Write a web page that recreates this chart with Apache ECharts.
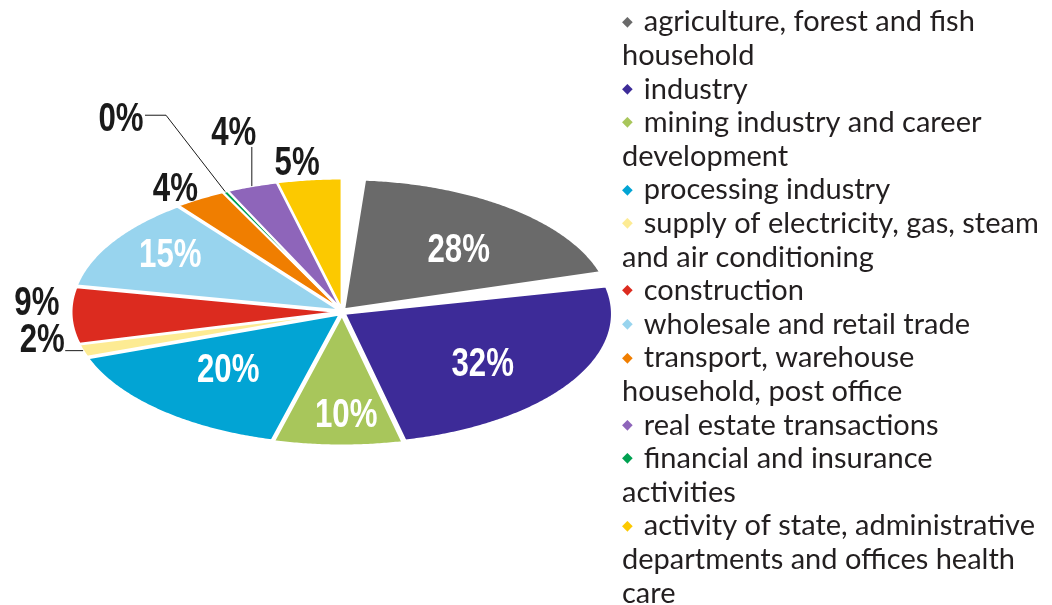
<!DOCTYPE html>
<html>
<head>
<meta charset="utf-8">
<script src="https://cdn.jsdelivr.net/npm/echarts@6/dist/echarts.min.js"></script>
<style>
html, body { margin: 0; padding: 0; background: #fff; }
#app { width: 1052px; height: 605px; }
</style>
</head>
<body>
<div id="app"></div>
<script>
// slices, clockwise from 12 o'clock
var categories = [
    'agriculture, forest and fish household',
    'industry',
    'mining industry and career development',
    'processing industry',
    'supply of electricity, gas, steam and air conditioning',
    'construction',
    'wholesale and retail trade',
    'transport, warehouse household, post office',
    'financial and insurance activities',
    'real estate transactions',
    'activity of state, administrative departments and offices health care'
];
var shares = [28, 32, 10, 20, 2, 9, 15, 4, 0.4, 4, 5];
// legend order and line breaks as printed
var legendOrder = [0, 1, 2, 3, 4, 5, 6, 7, 9, 8, 10];
var legendText = [
    'agriculture, forest and fish\nhousehold',
    'industry',
    'mining industry and career\ndevelopment',
    'processing industry',
    'supply of electricity, gas, steam\nand air conditioning',
    'construction',
    'wholesale and retail trade',
    'transport, warehouse\nhousehold, post office',
    'financial and insurance\nactivities',
    'real estate transactions',
    'activity of state, administrative\ndepartments and offices health\ncare'
];

var colors = ['#6a6a6a', '#3d2b98', '#a8c65b', '#02a4d4', '#fdeb93', '#dc2b1f',
    '#98d4ee', '#f07e00', '#00a151', '#8e65ba', '#fcc900'];

// ellipse layout
var cx = 342, cy = 312, rx = 267, ry = 130;
var padDeg = [4.5, 0, 0, 0, 0, 0, 0, 0, 0, 0, 0]; // pulled-out first slice
var explode = 3.5;
var labelFont = 'bold 40px "Liberation Sans", Arial, sans-serif';
var labelSquash = 0.78; // condensed look
// hand placed labels (like dragged in the original)
var labelReach = { 'financial and insurance activities': 1.66, 'real estate transactions': 1.45 };
var labelNudge = {
    'agriculture, forest and fish household': [-3, 12],
    'industry': [-20, 2],
    'mining industry and career development': [7, 9],
    'processing industry': [15, -11],
    'wholesale and retail trade': [-10, -6],
    'financial and insurance activities': [-28, 6],
    'real estate transactions': [22, 3],
    'construction': [8, -12],
    'supply of electricity, gas, steam and air conditioning': [0, -16],
    'transport, warehouse household, post office': [-2, 9],
    'activity of state, administrative departments and offices health care': [-7, 5]
};
var leaderKind = {
    'financial and insurance activities': 'elbow',
    'real estate transactions': 'straight',
    'supply of electricity, gas, steam and air conditioning': 'straight'
};

var total = shares.reduce(function (a, b) { return a + b; }, 0);

function pt(a, r, ox, oy) {
    var t = a * Math.PI / 180;
    return [cx + ox + r * rx * Math.cos(t), cy + oy - r * ry * Math.sin(t)];
}

function slice(i, api) {
    var before = 0;
    for (var k = 0; k < i; k++) before += shares[k];
    var v = api.value(0);
    var a0 = 90 - before / total * 360 - padDeg[i];
    var a1 = 90 - (before + v) / total * 360 + padDeg[i];
    var mid = (a0 + a1) / 2;
    var m = mid * Math.PI / 180;
    var ox = explode * Math.cos(m), oy = -explode * Math.sin(m);
    var pts = [[cx + ox, cy + oy]];
    var steps = Math.max(2, Math.ceil((a0 - a1) / 0.5));
    for (var s = 0; s <= steps; s++) {
        pts.push(pt(a0 - (a0 - a1) * s / steps, 1, ox, oy));
    }
    var name = categories[i];
    var children = [{
        type: 'polygon',
        shape: { points: pts },
        style: { fill: colors[i], stroke: '#fff', lineWidth: 2 }
    }];
    var inside = v >= 10;
    var lp = pt(mid, inside ? 0.7 : (labelReach[name] || 1.16), ox, oy);
    var nudge = labelNudge[name] || [0, 0];
    lp = [lp[0] + nudge[0], lp[1] + nudge[1]];
    children.push({
        type: 'text',
        x: lp[0], y: lp[1], scaleX: labelSquash,
        style: {
            text: Math.round(v) + '%', x: 0, y: 0,
            fill: inside ? '#fff' : '#1a1a1a', font: labelFont,
            align: 'center', verticalAlign: 'middle'
        }
    });
    var kind = leaderKind[name];
    if (kind) {
        var p = pt(mid, 1.0, ox, oy);
        var hw = 23, hh = 13, line;
        if (kind === 'elbow') {
            var an = [lp[0] + hw + 1, lp[1] - 5];
            line = [p, [an[0] + 21, an[1]], an];
        } else {
            var nx = Math.min(Math.max(p[0], lp[0] - hw), lp[0] + hw);
            var ny = Math.min(Math.max(p[1], lp[1] - hh), lp[1] + hh);
            line = [p, [nx, ny]];
        }
        children.push({
            type: 'polyline',
            shape: { points: line },
            style: { stroke: '#1a1a1a', lineWidth: 1, fill: null }
        });
    }
    return { type: 'group', children: children };
}

var legendSize = 29, legendLine = 33.6;
var rich = {
    t: { fontSize: legendSize, lineHeight: legendLine, color: '#231f20', fontFamily: 'Lato' }
};
colors.forEach(function (c, i) {
    rich['d' + i] = { fontSize: 14, lineHeight: legendLine, color: c, fontFamily: 'DejaVu Sans', padding: [0, 11, 0, 0] };
});

var myChart = echarts.init(document.getElementById('app'));
var options = {
    animation: false,
    legend: {
        orient: 'vertical',
        left: 617,
        top: 7.5,
        height: 800,
        padding: 0,
        itemGap: legendLine - legendSize,
        itemWidth: 0,
        itemHeight: 0,
        icon: 'none',
        selectedMode: false,
        data: legendOrder.map(function (i) { return categories[i]; }),
        formatter: function (name) {
            var i = categories.indexOf(name);
            var lines = legendText[i].split('\n');
            var s = '{d' + i + '|◆}{t|' + lines[0] + '}';
            for (var k = 1; k < lines.length; k++) s += '\n{t|' + lines[k] + '}';
            return s;
        },
        textStyle: { fontSize: legendSize, rich: rich }
    },
    series: categories.map(function (name, i) {
        return {
            type: 'custom',
            name: name,
            coordinateSystem: 'none',
            silent: true,
            itemStyle: { color: colors[i] },
            data: [shares[i]],
            renderItem: function (params, api) { return slice(i, api); }
        };
    })
};
myChart.setOption(options);
</script>
</body>
</html>
